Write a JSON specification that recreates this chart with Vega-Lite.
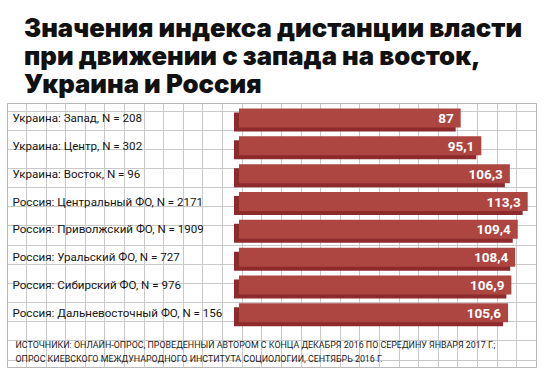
{
  "$schema": "https://vega.github.io/schema/vega-lite/v6.json",
  "autosize": "none",
  "width": 529,
  "height": 264,
  "padding": {"left": 7, "top": 103, "right": 8, "bottom": 7},
  "background": "white",
  "config": {
    "view": {"stroke": "#b8b8b8", "strokeWidth": 1},
    "locale": {"number": {"decimal": ",", "thousands": " ", "grouping": [3], "currency": ["", " ₽"]}}
  },
  "title": {
    "text": ["Значения индекса дистанции власти", "при движении с запада на восток,", "Украина и Россия"],
    "anchor": "start",
    "frame": "group",
    "dx": 17,
    "dy": 28,
    "offset": 10,
    "baseline": "alphabetic",
    "font": "Inter",
    "fontSize": 25.7,
    "fontWeight": 900,
    "lineHeight": 28,
    "color": "#111111"
  },
  "data": {
    "values": [
      {"region": "Украина: Запад, N = 208", "value": 87},
      {"region": "Украина: Центр, N = 302", "value": 95.1},
      {"region": "Украина: Восток, N = 96", "value": 106.3},
      {"region": "Россия: Центральный ФО, N = 2171", "value": 113.3},
      {"region": "Россия: Приволжский ФО, N = 1909", "value": 109.4},
      {"region": "Россия: Уральский ФО, N = 727", "value": 108.4},
      {"region": "Россия: Сибирский ФО, N = 976", "value": 106.9},
      {"region": "Россия: Дальневосточный ФО, N = 156", "value": 105.6}
    ]
  },
  "layer": [
    {
      "mark": {"type": "point", "opacity": 0},
      "encoding": {
        "y": {
          "datum": 0,
          "type": "quantitative",
          "scale": {"domain": [0, 264], "reverse": true, "nice": false, "zero": false},
          "axis": {
            "orient": "right",
            "values": [7.5, 26.7, 45.8, 65, 84.1, 103.3, 122.4, 141.6, 160.7, 179.9, 199, 218.2, 237.3, 256.5],
            "grid": true,
            "gridColor": "#c9c9c9",
            "gridWidth": 1,
            "labels": false,
            "ticks": false,
            "domain": false,
            "title": null
          }
        }
      }
    },
    {
      "encoding": {
        "y": {
          "field": "region",
          "type": "nominal",
          "sort": null,
          "scale": {"paddingInner": 0.317, "paddingOuter": 0.9015, "align": 0.11},
          "axis": {
            "orient": "left",
            "domain": false,
            "ticks": false,
            "tickSize": 0,
            "labelPadding": -5,
            "labelAlign": "left",
            "labelBaseline": "middle",
            "labelOffset": 1,
            "labelFont": "Roboto",
            "labelFontSize": 11.6,
            "labelColor": "#151515",
            "labelLimit": 0,
            "grid": false,
            "title": null
          }
        },
        "x": {
          "field": "value",
          "type": "quantitative",
          "scale": {"domain": [-91.05, 116.56], "nice": false, "zero": false},
          "axis": {
            "orient": "bottom",
            "values": [-83.56, -75.86, -68.17, -60.48, -52.79, -45.09, -37.4, -29.71, -22.02, -14.33, -6.63, 1.06, 8.75, 16.44, 24.14, 31.83, 39.52, 47.21, 54.91, 62.6, 70.29, 77.98, 85.68, 93.37, 101.06, 108.75],
            "grid": true,
            "gridColor": "#c9c9c9",
            "gridWidth": 1,
            "labels": false,
            "ticks": false,
            "domain": false,
            "title": ["ИСТОЧНИКИ: ОНЛАЙН-ОПРОС, ПРОВЕДЕННЫЙ АВТОРОМ С КОНЦА ДЕКАБРЯ 2016 ПО СЕРЕДИНУ ЯНВАРЯ 2017 Г.;", "ОПРОС КИЕВСКОГО МЕЖДУНАРОДНОГО ИНСТИТУТА СОЦИОЛОГИИ, СЕНТЯБРЬ 2016 Г."],
            "titleAnchor": "start",
            "titleAlign": "left",
            "titleBaseline": "alphabetic",
            "titleX": 8,
            "titleY": -20,
            "titleFont": "Roboto",
            "titleFontSize": 8.9,
            "titleFontWeight": "normal",
            "titleColor": "#1a1a1a",
            "titleLineHeight": 14.5
          }
        }
      },
      "layer": [
        {"mark": {"type": "bar", "color": "#8c2a2c", "xOffset": -5, "yOffset": 4}},
        {"mark": {"type": "bar", "color": "#ad4540"}},
        {
          "mark": {"type": "text", "align": "right", "baseline": "middle", "dx": -7, "dy": 1, "color": "white", "font": "Roboto", "fontWeight": "bold", "fontSize": 13.5},
          "encoding": {"text": {"field": "value", "type": "quantitative", "format": ".1~f"}}
        }
      ]
    }
  ],
  "resolve": {"scale": {"y": "independent"}, "axis": {"y": "independent"}}
}
